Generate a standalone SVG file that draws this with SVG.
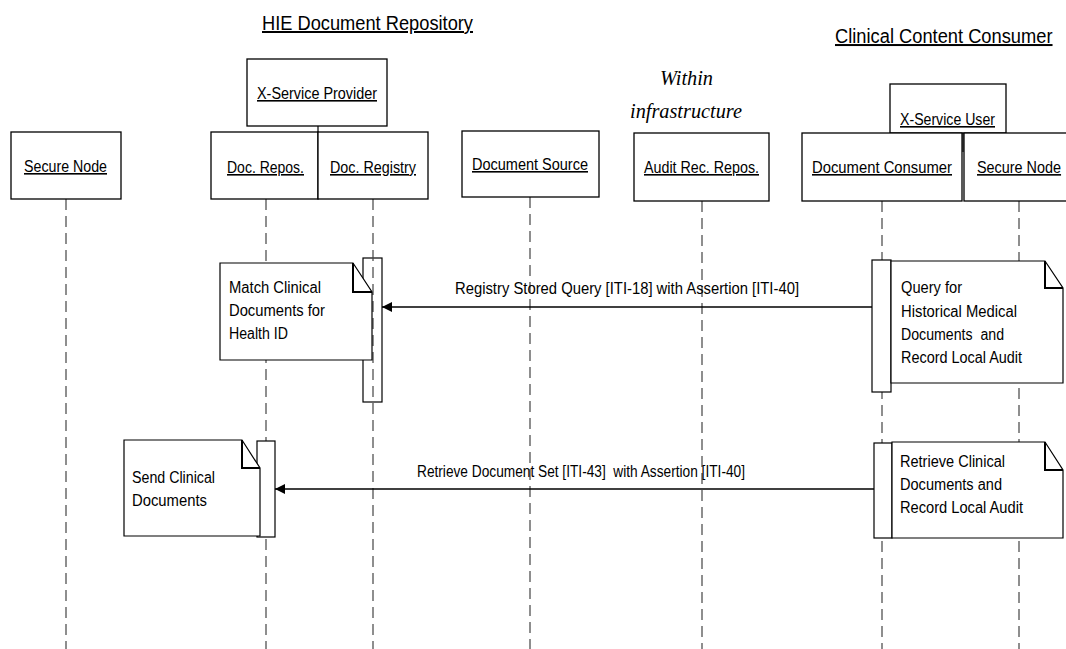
<svg xmlns="http://www.w3.org/2000/svg" width="1066" height="649" viewBox="0 0 1066 649">
  <style>
    .box { fill: #fff; stroke: #000; stroke-width: 1.3; }
    .bar { fill: #fff; stroke: #000; stroke-width: 1.2; }
    .note { fill: #fff; stroke: #000; stroke-width: 1.2; }
    .fold { fill: none; stroke: #000; stroke-width: 2; }
    .life { stroke: #444; stroke-width: 1.2; stroke-dasharray: 11 6; fill: none; }
    .msg { stroke: #000; stroke-width: 1.3; fill: none; marker-end: url(#head); }
    .link { stroke: #000; stroke-width: 1.2; }
    text { font-family: "Liberation Sans", Arial, sans-serif; fill: #000; }
    .lbl { font-size: 16px; text-decoration: underline; }
    .title { font-size: 20px; text-decoration: underline; }
    .txt { font-size: 16px; }
    .ital { font-family: "Liberation Serif", "Times New Roman", serif; font-style: italic; font-size: 21px; }
  </style>
  <defs>
    <marker id="head" viewBox="0 0 10 10" refX="10" refY="5" markerWidth="10" markerHeight="10" markerUnits="userSpaceOnUse" orient="auto">
      <path d="M0,0 L10,5 L0,10 Z" fill="#000"/>
    </marker>
  </defs>

  <!-- group headings -->
  <g id="headings">
    <text class="title" x="262" y="30" textLength="211" lengthAdjust="spacingAndGlyphs">HIE Document Repository</text>
    <text class="title" transform="translate(835,43) scale(0.915,1)" x="0" y="0">Clinical Content Consumer</text>
    <text class="ital" x="660" y="85" textLength="53" lengthAdjust="spacingAndGlyphs">Within</text>
    <text class="ital" x="630" y="118" textLength="112" lengthAdjust="spacingAndGlyphs">infrastructure</text>
  </g>

  <!-- activation bar drawn under its lifeline -->
  <rect id="bar-registry" class="bar" x="363" y="258" width="19" height="144" style="fill:none"/>

  <!-- lifelines and messages -->
  <g id="connectors">
    <line class="life" x1="66" y1="199" x2="66" y2="649"/>
    <line class="life" x1="266" y1="199" x2="266" y2="649"/>
    <line class="life" x1="373" y1="199" x2="373" y2="649"/>
    <line class="life" x1="530" y1="197" x2="530" y2="649"/>
    <line class="life" x1="702" y1="201" x2="702" y2="649"/>
    <line class="life" x1="882" y1="201" x2="882" y2="649"/>
    <line class="life" x1="1019" y1="201" x2="1019" y2="649"/>
    <line class="link" x1="318" y1="126" x2="318" y2="132"/>
    <line class="link" x1="963" y1="133" x2="963" y2="152"/>

    <line class="msg" x1="872" y1="307" x2="382" y2="307"/>
    <text class="txt" x="455" y="294" textLength="344" lengthAdjust="spacingAndGlyphs">Registry Stored Query [ITI-18] with Assertion [ITI-40]</text>

    <line class="msg" x1="874" y1="489" x2="275" y2="489"/>
    <text class="txt" x="417" y="477" textLength="328" lengthAdjust="spacingAndGlyphs" xml:space="preserve">Retrieve Document Set [ITI-43]  with Assertion [ITI-40]</text>
  </g>

  <!-- participants -->
  <g id="secure-node-left">
    <rect class="box" x="11" y="132" width="110" height="67"/>
    <text class="lbl" x="24" y="172" textLength="83" lengthAdjust="spacingAndGlyphs">Secure Node</text>
  </g>
  <g id="x-service-provider">
    <rect class="box" x="247" y="59" width="140" height="67"/>
    <text class="lbl" x="257" y="99" textLength="120" lengthAdjust="spacingAndGlyphs">X-Service Provider</text>
  </g>
  <g id="doc-repos">
    <rect class="box" x="211" y="132" width="107" height="67"/>
    <text class="lbl" x="227" y="173" textLength="77" lengthAdjust="spacingAndGlyphs">Doc. Repos.</text>
  </g>
  <g id="doc-registry">
    <rect class="box" x="318" y="132" width="110" height="67"/>
    <text class="lbl" x="330" y="173" textLength="86" lengthAdjust="spacingAndGlyphs">Doc. Registry</text>
  </g>
  <g id="document-source">
    <rect class="box" x="462" y="131" width="137" height="66"/>
    <text class="lbl" x="472" y="170" textLength="116" lengthAdjust="spacingAndGlyphs">Document Source</text>
  </g>
  <g id="audit-rec-repos">
    <rect class="box" x="634" y="133" width="135" height="68"/>
    <text class="lbl" x="644" y="173" textLength="115" lengthAdjust="spacingAndGlyphs">Audit Rec. Repos.</text>
  </g>
  <g id="x-service-user">
    <rect class="box" x="890" y="84" width="116" height="49"/>
    <text class="lbl" x="900" y="125" textLength="95" lengthAdjust="spacingAndGlyphs">X-Service User</text>
  </g>
  <g id="document-consumer">
    <rect class="box" x="802" y="133" width="160" height="68"/>
    <text class="lbl" x="812" y="173" textLength="140" lengthAdjust="spacingAndGlyphs">Document Consumer</text>
  </g>
  <g id="secure-node-right">
    <rect class="box" x="964" y="133" width="106" height="68"/>
    <text class="lbl" transform="translate(977,173) scale(0.9,1)" x="0" y="0">Secure Node</text>
  </g>

  <!-- activation bars -->
  <rect id="bar-consumer-1" class="bar" x="872" y="260" width="19" height="132"/>
  <rect id="bar-repos" class="bar" x="257" y="441" width="18" height="96"/>
  <rect id="bar-consumer-2" class="bar" x="874" y="443" width="18" height="95"/>

  <!-- notes -->
  <g id="note-match">
    <path class="note" d="M220,263 H353 L372,292 V360 H220 Z"/>
    <path class="fold" d="M353,263 V292 H372"/>
    <text class="txt" x="229" y="293" textLength="92" lengthAdjust="spacingAndGlyphs">Match Clinical</text>
    <text class="txt" x="229" y="316" textLength="96" lengthAdjust="spacingAndGlyphs">Documents for</text>
    <text class="txt" x="229" y="339" textLength="59" lengthAdjust="spacingAndGlyphs">Health ID</text>
  </g>
  <g id="note-query">
    <path class="note" d="M891,261 H1045 L1063,288 V383 H891 Z"/>
    <path class="fold" d="M1045,261 V288 H1063"/>
    <text class="txt" x="901" y="293" textLength="61" lengthAdjust="spacingAndGlyphs">Query for</text>
    <text class="txt" x="901" y="317" textLength="116" lengthAdjust="spacingAndGlyphs">Historical Medical</text>
    <text class="txt" x="901" y="340" textLength="103" lengthAdjust="spacingAndGlyphs" xml:space="preserve">Documents  and</text>
    <text class="txt" x="901" y="363" textLength="121" lengthAdjust="spacingAndGlyphs">Record Local Audit</text>
  </g>
  <g id="note-send">
    <path class="note" d="M124,440 H242 L260,468 V536 H124 Z"/>
    <path class="fold" d="M242,440 V468 H260"/>
    <text class="txt" x="132" y="483" textLength="83" lengthAdjust="spacingAndGlyphs">Send Clinical</text>
    <text class="txt" x="132" y="506" textLength="75" lengthAdjust="spacingAndGlyphs">Documents</text>
  </g>
  <g id="note-retrieve">
    <path class="note" d="M892,442 H1045 L1063,470 V538 H892 Z"/>
    <path class="fold" d="M1045,442 V470 H1063"/>
    <text class="txt" x="900" y="467" textLength="105" lengthAdjust="spacingAndGlyphs">Retrieve Clinical</text>
    <text class="txt" x="900" y="490" textLength="102" lengthAdjust="spacingAndGlyphs">Documents and</text>
    <text class="txt" x="900" y="513" textLength="123" lengthAdjust="spacingAndGlyphs">Record Local Audit</text>
  </g>
</svg>
